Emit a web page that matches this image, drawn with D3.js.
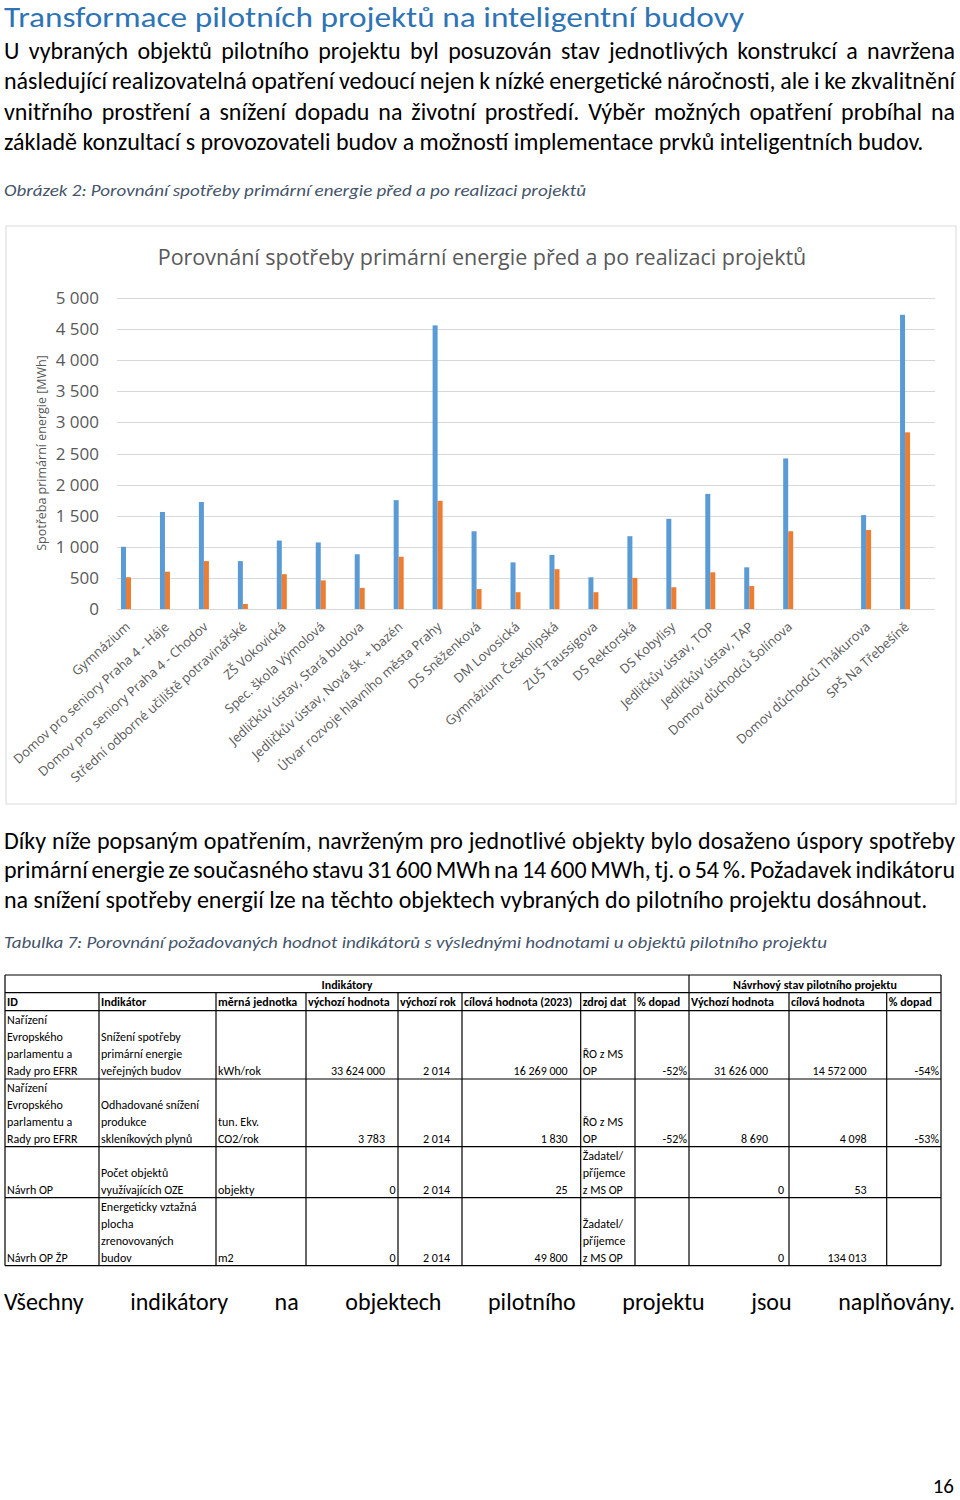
<!DOCTYPE html>
<html>
<head>
<meta charset="utf-8">
<script src="https://cdn.jsdelivr.net/npm/d3@7"></script>
<style>
  body { margin: 0; background: #fff; }
  svg { display: block; }
  .body { font-family: Carlito, Lato, sans-serif; font-size: 24px; fill: #000; }
  .cap { font-family: Carlito, Lato, sans-serif; font-style: italic; font-size: 15.5px; fill: #44546a; }
  .chart text { font-family: "Open Sans", sans-serif; fill: #595959; }
  .tbl { font-family: Carlito, Lato, sans-serif; font-size: 12px; fill: #000; }
</style>
</head>
<body>
<script>
'use strict'

// chart data (MWh); "" is an empty category slot in the original chart
const categories = [
  'Gymnázium', 'Domov pro seniory Praha 4 - Háje', 'Domov pro seniory Praha 4 - Chodov',
  'Střední odborné učiliště potravinářské', 'ZŠ Vokovická', 'Spec. škola Výmolová',
  'Jedličkův ústav, Stará budova', 'Jedličkův ústav, Nová šk. + bazén',
  'Útvar rozvoje hlavního města Prahy', 'DS Sněženková', 'DM Lovosická',
  'Gymnázium Českolipská', 'ZUŠ Taussigova', 'DS Rektorská', 'DS Kobylisy',
  'Jedličkův ústav, TOP', 'Jedličkův ústav, TAP', 'Domov důchodců Šolínova', '',
  'Domov důchodců Thákurova', 'SPŠ Na Třebešíně'
]
const before = [1000, 1560, 1720, 770, 1100, 1070, 880, 1750, 4560, 1250, 750, 870, 510, 1170, 1450, 1850, 670, 2420, null, 1510, 4730]
const after = [510, 600, 770, 80, 560, 460, 340, 840, 1740, 320, 270, 640, 270, 500, 350, 590, 370, 1250, null, 1270, 2840]
const seriesNames = ['před realizací', 'po realizaci']
const seriesColors = ['#5b9bd5', '#ed7d31']
const yTicks = [0, 500, 1000, 1500, 2000, 2500, 3000, 3500, 4000, 4500, 5000]

// texts
const pageTitle = 'Transformace pilotních projektů na inteligentní budovy'
const para1 = [
  'U vybraných objektů pilotního projektu byl posuzován stav jednotlivých konstrukcí a navržena',
  'následující realizovatelná opatření vedoucí nejen k nízké energetické náročnosti, ale i ke zkvalitnění',
  'vnitřního prostření a snížení dopadu na životní prostředí. Výběr možných opatření probíhal na',
  'základě konzultací s provozovateli budov a možností implementace prvků inteligentních budov.'
]
const figCaption = 'Obrázek 2: Porovnání spotřeby primární energie před a po realizaci projektů'
const chartTitle = 'Porovnání spotřeby primární energie před a po realizaci projektů'
const yTitle = 'Spotřeba primární energie [MWh]'
const para2 = [
  'Díky níže popsaným opatřením, navrženým pro jednotlivé objekty bylo dosaženo úspory spotřeby',
  'primární energie ze současného stavu 31 600 MWh na 14 600 MWh, tj. o 54 %. Požadavek indikátoru',
  'na snížení spotřeby energií lze na těchto objektech vybraných do pilotního projektu dosáhnout.'
]
const tableCaption = 'Tabulka 7: Porovnání požadovaných hodnot indikátorů s výslednými hodnotami u objektů pilotního projektu'
const para3 = ['Všechny indikátory na objektech pilotního projektu jsou naplňovány.']
const pageNumber = '16'

// table
const groupHeaders = ['Indikátory', 'Návrhový stav pilotního projektu']
const colHeaders = ['ID', 'Indikátor', 'měrná jednotka', 'výchozí hodnota', 'výchozí rok',
  'cílová hodnota (2023)', 'zdroj dat', '% dopad', 'Výchozí hodnota', 'cílová hodnota', '% dopad']
const tableRows = [
  ['Nařízení\nEvropského\nparlamentu a\nRady pro EFRR', 'Snížení spotřeby\nprimární energie\nveřejných budov', 'kWh/rok',
    '33 624 000', '2 014', '16 269 000', 'ŘO z MS\nOP', '-52%', '31 626 000', '14 572 000', '-54%'],
  ['Nařízení\nEvropského\nparlamentu a\nRady pro EFRR', 'Odhadované snížení\nprodukce\nskleníkových plynů', 'tun. Ekv.\nCO2/rok',
    '3 783', '2 014', '1 830', 'ŘO z MS\nOP', '-52%', '8 690', '4 098', '-53%'],
  ['Návrh OP', 'Počet objektů\nvyužívajících OZE', 'objekty',
    '0', '2 014', '25', 'Žadatel/\npříjemce\nz MS OP', '', '0', '53', ''],
  ['Návrh OP ŽP', 'Energeticky vztažná\nplocha\nzrenovovaných\nbudov', 'm2',
    '0', '2 014', '49 800', 'Žadatel/\npříjemce\nz MS OP', '', '0', '134 013', '']
]

const W = 960, H = 1500
const svg = d3.select('body').append('svg').attr('width', W).attr('height', H)

// justified paragraph lines: stretch word gaps to the column width, except the last line
function paragraph(lines, y0, lh, justifyLast) {
  lines.forEach((line, i) => {
    const t = svg.append('text').attr('class', 'body').attr('x', 4).attr('y', y0 + i * lh).text(line)
    if (i < lines.length - 1 || justifyLast) {
      const w = t.node().getComputedTextLength()
      const gaps = (line.match(/ /g) || []).length
      t.style('word-spacing', ((951 - w) / gaps) + 'px')
    }
  })
}

svg.append('text').attr('x', 4).attr('y', 27)
  .style('font-family', 'Carlito, Lato, sans-serif').style('font-weight', 300)
  .style('font-size', '29px').style('fill', '#2e74b5')
  .attr('textLength', 740).attr('lengthAdjust', 'spacingAndGlyphs')
  .text(pageTitle)

paragraph(para1, 59, 30.3, false)
svg.append('text').attr('class', 'cap').attr('x', 4).attr('y', 196)
  .attr('textLength', 582).attr('lengthAdjust', 'spacingAndGlyphs').text(figCaption)

// ---- chart ----
const chart = svg.append('g').attr('class', 'chart')
chart.append('rect').attr('x', 6).attr('y', 226).attr('width', 950).attr('height', 578)
  .attr('fill', '#fff').attr('stroke', '#d9d9d9')

chart.append('text').attr('x', 482).attr('y', 265).attr('text-anchor', 'middle')
  .style('font-size', '21.5px').text(chartTitle)

const y = d3.scaleLinear().domain([0, 5000]).range([609, 298])
const x = d3.scaleBand().domain(d3.range(categories.length)).range([117, 935])
const x1 = d3.scaleBand().domain(seriesNames).range([4, 14])
const fmt = d3.formatLocale({ thousands: '\u00a0', grouping: [3], decimal: ',', currency: ['', ''] }).format(',d')

chart.append('g').selectAll('line').data(yTicks).join('line')
  .attr('x1', 117).attr('x2', 935)
  .attr('y1', d => Math.round(y(d)) + 0.5).attr('y2', d => Math.round(y(d)) + 0.5)
  .attr('stroke', '#d9d9d9')

chart.append('g').selectAll('text').data(yTicks).join('text')
  .attr('x', 99).attr('y', d => y(d) + 6).attr('text-anchor', 'end')
  .style('font-size', '17px').text(fmt)

chart.append('text').attr('transform', 'translate(46,453) rotate(-90)').attr('text-anchor', 'middle')
  .style('font-size', '12.5px').text(yTitle)

const series = [before, after]
series.forEach((vals, s) => {
  chart.append('g').selectAll('rect')
    .data(vals.map((v, i) => ({ i, v })).filter(d => d.v != null))
    .join('rect')
    .attr('x', d => x(d.i) + x1(seriesNames[s]))
    .attr('width', x1.bandwidth())
    .attr('y', d => y(d.v))
    .attr('height', d => y(0) - y(d.v))
    .attr('fill', seriesColors[s])
})

chart.append('g').selectAll('text').data(categories.map((c, i) => ({ c, i })).filter(d => d.c))
  .join('text')
  .attr('transform', d => `translate(${x(d.i) + 14},628) rotate(-42)`)
  .attr('text-anchor', 'end')
  .style('font-size', '13px')
  .text(d => d.c)

// ---- text after chart ----
paragraph(para2, 849, 29.3, false)
svg.append('text').attr('class', 'cap').attr('x', 4).attr('y', 948)
  .attr('textLength', 823).attr('lengthAdjust', 'spacingAndGlyphs').text(tableCaption)

// ---- table ----
const colX = [5, 99, 216, 306, 398, 462, 580.7, 635, 689, 789, 886.7, 941]
const rowY = [975, 992.7, 1010.7, 1079, 1146.7, 1197.7, 1265.7]
const leftCols = [0, 1, 2, 6]
const rightPad = (c, v) => {
  if (c === 3) return v === '0' ? 2.5 : 13
  if (c === 4) return 12
  if (c === 5) return 13
  if (c === 8) return v === '0' ? 5 : 21
  if (c === 9) return 20
  return 2
}
const tbl = svg.append('g').attr('class', 'tbl')
const lines = tbl.append('g').attr('stroke', '#000').attr('stroke-width', 1.2)
// horizontal rules
rowY.forEach(ry => lines.append('line').attr('x1', 5).attr('x2', 941).attr('y1', ry).attr('y2', ry))
// vertical rules (group header row only has the split between groups)
colX.forEach((cx, i) => {
  const top = (i === 0 || i === 8 || i === colX.length - 1) ? rowY[0] : rowY[1]
  lines.append('line').attr('x1', cx).attr('x2', cx).attr('y1', top).attr('y2', rowY[rowY.length - 1])
})

tbl.append('text').attr('x', 347).attr('y', 989).attr('text-anchor', 'middle')
  .style('font-weight', 'bold').text(groupHeaders[0])
tbl.append('text').attr('x', 815).attr('y', 989).attr('text-anchor', 'middle')
  .style('font-weight', 'bold').text(groupHeaders[1])
tbl.append('g').selectAll('text').data(colHeaders).join('text')
  .attr('x', (d, i) => colX[i] + 2).attr('y', 1006)
  .style('font-weight', 'bold').text(d => d)

tableRows.forEach((row, r) => {
  const bottom = rowY[r + 3] - 4
  row.forEach((cell, c) => {
    if (!cell) return
    const parts = cell.split('\n')
    const left = leftCols.includes(c)
    parts.forEach((p, k) => {
      tbl.append('text')
        .attr('x', left ? colX[c] + 2 : colX[c + 1] - rightPad(c, cell))
        .attr('y', bottom - (parts.length - 1 - k) * 17)
        .attr('text-anchor', left ? 'start' : 'end')
        .text(p)
    })
  })
})

paragraph(para3, 1310, 30, true)
svg.append('text').attr('class', 'body').attr('x', 954).attr('y', 1493)
  .attr('text-anchor', 'end').style('font-size', '21px').text(pageNumber)
</script>
</body>
</html>
